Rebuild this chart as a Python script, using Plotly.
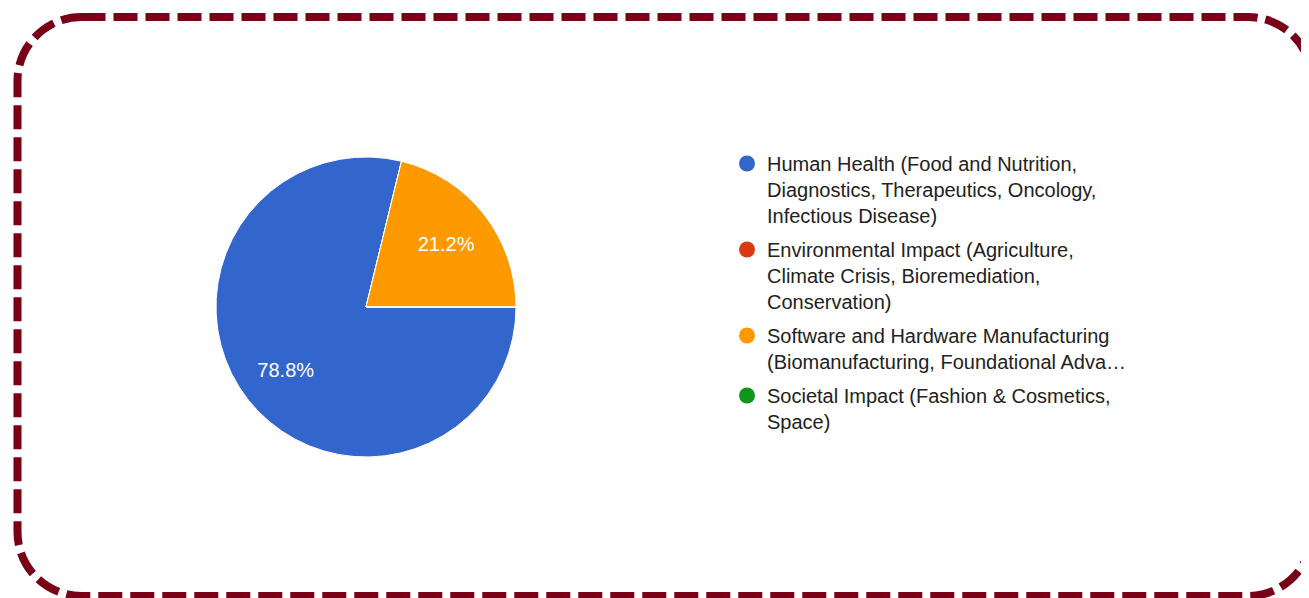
import plotly.graph_objects as go

# ---- data ----
categories = [
    "Human Health (Food and Nutrition,<br>Diagnostics, Therapeutics, Oncology,<br>Infectious Disease)",
    "Environmental Impact (Agriculture,<br>Climate Crisis, Bioremediation,<br>Conservation)",
    "Software and Hardware Manufacturing<br>(Biomanufacturing, Foundational Adva…",
    "Societal Impact (Fashion & Cosmetics,<br>Space)",
]
shares = [78.8, 0.0, 21.2, 0.0]
colors = ["#3366cc", "#dc3912", "#ff9900", "#109618"]

# page body adds an 8px margin; figure coordinates are offset for it
OFF = 8
W, H = 1309 - OFF, 598 - OFF
FONT = "Liberation Sans, Arial, sans-serif"


def dx(v):
    return (v - OFF) / W


def dy(v):
    return 1 - (v - OFF) / H


pie_domain = dict(x=[dx(216), dx(516)], y=[dy(457), dy(157)])

fig = go.Figure()

# coloured slices
fig.add_trace(go.Pie(
    labels=categories,
    values=shares,
    marker=dict(colors=colors, line=dict(color="white", width=1)),
    sort=False,
    direction="clockwise",
    rotation=90,
    textinfo="none",
    showlegend=False,
    hoverinfo="label+percent",
    domain=pie_domain,
))

# percentage labels (transparent ring so labels sit further out, as in the original)
fig.add_trace(go.Pie(
    labels=categories,
    values=shares,
    hole=0.36,
    marker=dict(colors=["rgba(0,0,0,0)"] * len(colors), line=dict(width=0)),
    sort=False,
    direction="clockwise",
    rotation=90,
    textinfo="percent",
    texttemplate="%{percent:.1%}",
    textposition="inside",
    insidetextorientation="horizontal",
    textfont=dict(color="white", size=20, family=FONT),
    showlegend=False,
    hoverinfo="skip",
    domain=pie_domain,
))

# legend entries (circle symbols like the original)
for i, (name, col) in enumerate(zip(categories, colors)):
    fig.add_trace(go.Scatter(
        x=[None], y=[None], mode="markers", name=name,
        legendgroup=f"g{i}",
        marker=dict(color=col, size=16, symbol="circle"),
        showlegend=True,
    ))


# rounded dashed frame
def rounded_rect(x0, y0, x1, y1, r):
    k = 0.5523 * r
    p = []
    p.append(f"M {dx(x0 + r)},{dy(y0)}")
    p.append(f"L {dx(x1 - r)},{dy(y0)}")
    p.append(f"C {dx(x1 - r + k)},{dy(y0)} {dx(x1)},{dy(y0 + r - k)} {dx(x1)},{dy(y0 + r)}")
    p.append(f"L {dx(x1)},{dy(y1 - r)}")
    p.append(f"C {dx(x1)},{dy(y1 - r + k)} {dx(x1 - r + k)},{dy(y1)} {dx(x1 - r)},{dy(y1)}")
    p.append(f"L {dx(x0 + r)},{dy(y1)}")
    p.append(f"C {dx(x0 + r - k)},{dy(y1)} {dx(x0)},{dy(y1 - r + k)} {dx(x0)},{dy(y1 - r)}")
    p.append(f"L {dx(x0)},{dy(y0 + r)}")
    p.append(f"C {dx(x0)},{dy(y0 + r - k)} {dx(x0 + r - k)},{dy(y0)} {dx(x0 + r)},{dy(y0)}")
    p.append("Z")
    return " ".join(p)


fig.add_shape(
    type="path", xref="paper", yref="paper",
    path=rounded_rect(17.5, 17, 1312, 596, 64),
    line=dict(color="#780017", width=8, dash="24px,8px"),
    fillcolor="rgba(0,0,0,0)",
)

fig.update_layout(
    width=W, height=H,
    margin=dict(l=0, r=0, t=0, b=0),
    paper_bgcolor="white",
    plot_bgcolor="white",
    xaxis=dict(visible=False),
    yaxis=dict(visible=False),
    font=dict(family=FONT, color="#222222"),
    legend=dict(
        x=dx(727), xanchor="left",
        y=dy(144), yanchor="top",
        valign="top",
        traceorder="grouped",
        tracegroupgap=5,
        font=dict(size=20, family=FONT, color="#222222"),
        bgcolor="rgba(0,0,0,0)",
        itemclick=False, itemdoubleclick=False,
    ),
)

fig.write_html("out.html")
